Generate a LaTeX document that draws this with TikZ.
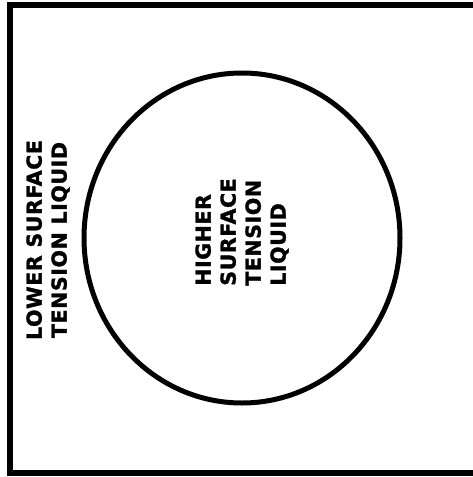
\documentclass[tikz,border=0pt]{standalone}
\usepackage{fontspec}
\setmainfont{DejaVu Sans}[LetterSpace=3, BoldFeatures={FakeBold=1.5}]
\begin{document}
\begin{tikzpicture}[x=1pt,y=-1pt,
  lbl/.style={font=\bfseries\fontsize{20.5}{25}\selectfont, inner sep=0pt, rotate=90}]
\useasboundingbox (0,0) rectangle (473,477);
\clip (0,0) rectangle (473,477);
\fill[white] (0,0) rectangle (473,477);
\draw[line width=6pt] (10,5) rectangle (485,473);
\draw[line width=5pt] (242,238) ellipse [x radius=158, y radius=165];
\node[lbl, align=center] (lower) at (48,240) {LOWER SURFACE\\TENSION LIQUID};
\node[lbl, align=left] (higher) at (242,232) {HIGHER\\SURFACE\\TENSION\\LIQUID};
\end{tikzpicture}
\end{document}
